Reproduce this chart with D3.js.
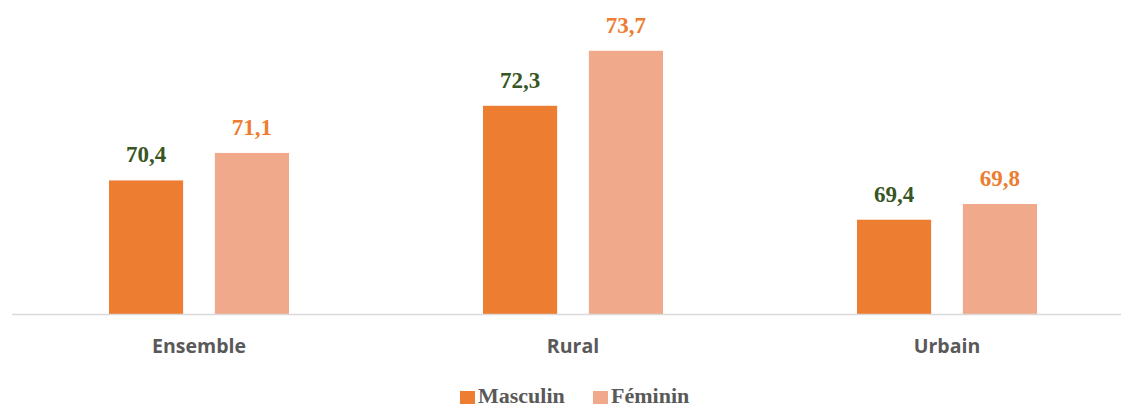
<!DOCTYPE html>
<html lang="fr">
<head>
<meta charset="UTF-8">
<title>Masculin / Féminin</title>
<script src="https://d3js.org/d3.v7.min.js"></script>
<style>
  body, html { margin: 0; padding: 0; background: #fff; }
</style>
</head>
<body>
<div id="chart"></div>
<script>
const categories = ["Ensemble", "Rural", "Urbain"];
const series = ["Masculin", "Féminin"];
const masculin = [70.4, 72.3, 69.4];
const feminin = [71.1, 73.7, 69.8];

const colors = { "Masculin": "#ED7D31", "Féminin": "#F1A98B" };
const labelColors = { "Masculin": "#375623", "Féminin": "#ED7D31" };

const width = 1121, height = 407;
const svg = d3.select("#chart").append("svg")
    .attr("width", width)
    .attr("height", height);

const x0 = d3.scaleBand().domain(categories).range([12, 1134]);
const groupW = 180;
const x1 = d3.scaleBand().domain(series).range([0, groupW]).paddingInner(0.3);
const y = d3.scaleLinear().domain([67, 74]).range([314, 39]);

const rows = categories.map((c, i) => ({
    cat: c,
    vals: [{ s: "Masculin", v: masculin[i] }, { s: "Féminin", v: feminin[i] }]
}));

const groups = svg.selectAll(".grp")
    .data(rows)
    .enter().append("g")
    .attr("class", "grp")
    .attr("transform", d => "translate(" + (x0(d.cat) + (x0.bandwidth() - groupW) / 2) + ",0)");

groups.selectAll("rect")
    .data(d => d.vals)
    .enter().append("rect")
    .attr("x", d => x1(d.s))
    .attr("y", d => y(d.v))
    .attr("width", x1.bandwidth())
    .attr("height", d => y(67) - y(d.v))
    .attr("fill", d => colors[d.s]);

groups.selectAll("text.val")
    .data(d => d.vals)
    .enter().append("text")
    .attr("class", "val")
    .attr("x", d => x1(d.s) + x1.bandwidth() / 2)
    .attr("y", d => y(d.v) - 18)
    .attr("text-anchor", "middle")
    .style("font-family", "'Liberation Serif', 'Times New Roman', serif")
    .style("font-weight", "bold")
    .style("font-size", "23px")
    .attr("fill", d => labelColors[d.s])
    .text(d => d3.format(".1f")(d.v).replace(".", ","));

// axis line
svg.append("line")
    .attr("x1", 12).attr("x2", width)
    .attr("y1", 314.5).attr("y2", 314.5)
    .attr("stroke", "#d9d9d9")
    .attr("stroke-width", 1.5);

svg.selectAll("text.cat")
    .data(categories)
    .enter().append("text")
    .attr("class", "cat")
    .attr("x", d => x0(d) + x0.bandwidth() / 2)
    .attr("y", 353)
    .attr("text-anchor", "middle")
    .style("font-family", "'Open Sans', sans-serif")
    .style("font-weight", "bold")
    .style("font-size", "19.5px")
    .attr("fill", "#595959")
    .text(d => d);

// legend
const legendX = [460, 593];
const legend = svg.selectAll(".leg")
    .data(series)
    .enter().append("g")
    .attr("class", "leg")
    .attr("transform", (d, i) => "translate(" + legendX[i] + ",391)");

legend.append("rect")
    .attr("width", 15).attr("height", 13)
    .attr("fill", d => colors[d]);

legend.append("text")
    .attr("x", 18)
    .attr("y", 12)
    .style("font-family", "'Liberation Serif', 'Times New Roman', serif")
    .style("font-weight", "bold")
    .style("font-size", "22px")
    .attr("fill", "#595959")
    .text(d => d);
</script>
</body>
</html>
